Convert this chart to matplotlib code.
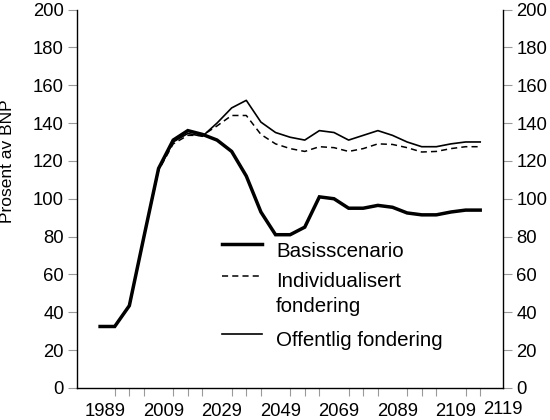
import matplotlib
matplotlib.use("Agg")
import matplotlib.pyplot as plt
import matplotlib.transforms as mtransforms
from matplotlib.lines import Line2D

plt.rcParams['font.family'] = ['Liberation Sans', 'DejaVu Sans']

years = [1989, 1994, 1999, 2004, 2009, 2014, 2019, 2024, 2029, 2034, 2039, 2044, 2049, 2054,
         2059, 2064, 2069, 2074, 2079, 2084, 2089, 2094, 2099, 2104, 2109, 2114, 2119]
basis = [32.5, 32.5, 43.5, 80, 116, 131, 136, 134, 131, 125, 112, 93, 81, 81,
         85, 101, 100, 95, 95, 96.5, 95.5, 92.5, 91.5, 91.5, 93, 94, 94]
individ = [32.5, 32.5, 43.5, 80, 115, 129, 133.5, 133.5, 138.5, 144, 144, 134, 129, 126.5,
           125, 127.5, 127, 125, 126.5, 129, 128.7, 127, 124.7, 125, 126.5, 127.5, 127.5]
offentlig = [32.5, 32.5, 43.5, 80, 115.5, 130, 134.5, 133, 140, 148, 152, 140.5, 135, 132.5,
             131, 136, 135, 131, 133.5, 136, 133.5, 130, 127.5, 127.5, 129, 130, 130]

x_labels = ['1989', '2009', '2029', '2049', '2069', '2089', '2109']
last_label = '2119'
y_ticks = [0, 20, 40, 60, 80, 100, 120, 140, 160, 180, 200]
legend_labels = ['Basisscenario', 'Individualisert', 'fondering', 'Offentlig fondering']
ylabel = 'Prosent av BNP'

fig = plt.figure(figsize=(5.5, 4.2), dpi=100)
ax = fig.add_axes([77/550, 1-388/420, (503-77)/550, (388-9.5)/420])

ax.plot(years, basis, color='black', lw=2.5, solid_joinstyle='miter')
ax.plot(years, individ, color='black', lw=1.1, linestyle=(0, (4.0, 2.7)))
ax.plot(years, offentlig, color='black', lw=1.2)

ax.set_xlim(1981.1, 2126.8)
ax.set_ylim(0, 200)

for s in ['left', 'right', 'bottom']:
    ax.spines[s].set_color('black')
    ax.spines[s].set_linewidth(1.0)
ax.spines['top'].set_visible(False)

ax.set_yticks(y_ticks)
ax.set_yticklabels([str(v) for v in y_ticks])
ax.tick_params(axis='y', which='major', left=True, right=True, labelleft=True, labelright=True,
               length=6.5, width=0.8, color='#9a9a9a', labelsize=13.3, pad=3.0, direction='out')

# minor ticks at every data year, labels every 20 years
ax.set_xticks(years, minor=True)
ax.set_xticks([int(l) for l in x_labels])
ax.set_xticklabels(x_labels)
ax.tick_params(axis='x', which='minor', length=5.5, width=0.8, color='#9a9a9a', direction='out')
ax.tick_params(axis='x', which='major', length=0, labelsize=13.3, pad=11)
offset = mtransforms.ScaledTranslation(5/100, 0, fig.dpi_scale_trans)
for lab in ax.get_xticklabels():
    lab.set_transform(lab.get_transform() + offset)

ax.text(1.0, -0.035, last_label, transform=ax.transAxes, ha='center', va='top', fontsize=13.3)

# manual legend
def ay(py):
    return (388 - py) / 378.5
lx0, lx1 = (222-77)/426, (262-77)/426
tx = (276-77)/426
ax.add_line(Line2D([lx0, lx1], [ay(244), ay(244)], transform=ax.transAxes, color='black', lw=2.5))
ax.add_line(Line2D([lx0, (259-77)/426], [ay(275.7), ay(275.7)], transform=ax.transAxes, color='black',
                   lw=1.1, linestyle=(0, (4.0, 2.7))))
ax.add_line(Line2D([lx0, lx1], [ay(334.3), ay(334.3)], transform=ax.transAxes, color='black', lw=1.2))
ax.text(tx, ay(256.7), legend_labels[0], transform=ax.transAxes, fontsize=14.8, va='baseline')
ax.text(tx, ay(287.3), legend_labels[1], transform=ax.transAxes, fontsize=14.8, va='baseline')
ax.text(tx, ay(311.7), legend_labels[2], transform=ax.transAxes, fontsize=14.8, va='baseline')
ax.text(tx, ay(345.7), legend_labels[3], transform=ax.transAxes, fontsize=14.8, va='baseline')

fig.text(7.5/550, 1-161.5/420, ylabel, rotation=90, ha='center', va='center', fontsize=12.5)

fig.savefig('out.png', dpi=100)
